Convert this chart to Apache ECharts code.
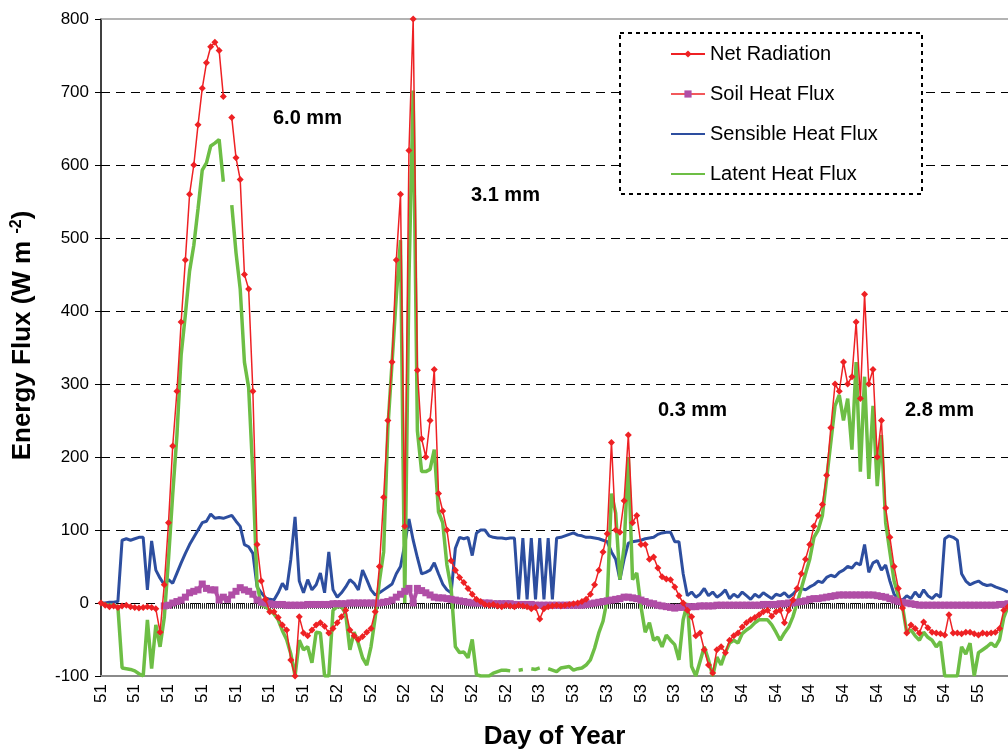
<!DOCTYPE html>
<html>
<head>
<meta charset="utf-8">
<title>Energy Flux</title>
<script src="https://cdn.jsdelivr.net/npm/echarts@6/dist/echarts.min.js"></script>
<style>
  html, body { margin: 0; padding: 0; background: #fff; }
  #chart { width: 1008px; height: 749px; }
</style>
</head>
<body>
<div id="chart"></div>
<script>
// Day-of-year tick labels; one label every 8 samples
const tickLabels = ['51','51','51','51','51','51','51','52','52','52','52','52','52','53','53','53','53','53','53','54','54','54','54','54','54','54','55'];
const samplesPerTick = 8;

// Energy fluxes, W m-2
const netRadiation = [
  0, -3, -5, -4, -6, -4, -3, -5, -6, -7,
  -6, -5, -6, -8, -40, 25, 110, 215, 290, 385,
  470, 560, 600, 655, 705, 740, 762, 768, 757, 694,
  null, 665, 610, 580, 450, 430, 290, 80, 30, 5,
  -12, -12, -20, -30, -37, -78, -100, -19, -41, -45,
  -37, -30, -27, -32, -41, -35, -27, -19, -10, -37,
  -45, -50, -46, -40, -35, -12, 50, 145, 250, 330,
  470, 560, 105, 620, 800, 319, 225, 200, 250, 320,
  150, 126, 100, 58, 45, 35, 28, 20, 12, 5,
  2, -2, -3, -2, -4, -5, -3, -4, -5, -3,
  -4, -5, -8, -6, -22, -8, -5, -4, -3, -4,
  -3, -2, -1, 0, 2, 5, 12, 25, 45, 70,
  95, 220, 100, 97, 140, 230, 110, 120, 80, 80,
  60, 63, 48, 36, 33, 32, 22, 10, 0, -10,
  -19, -45, -41, -64, -85, -96, -64, -60, -68, -51,
  -45, -41, -33, -27, -23, -20, -16, -12, -10, -18,
  -12, -10, -27, -10, 4, 20, 40, 60, 80, 105,
  120, 135, 175, 240, 300, 290, 330, 300, 310, 385,
  280, 423, 300, 320, 200, 250, 130, 90, 50, 20,
  -7, -41, -30, -35, -41, -26, -34, -40, -41, -42,
  -44, -16, -41, -41, -42, -40, -40, -42, -44, -41,
  -42, -41, -40, -35, -10, -5
];

const soilHeat = [
  null, null, null, null, null, null, null, null, null, null,
  null, null, null, null, null, -4, -3, 0, 2, 4,
  8, 14, 16, 18, 26, 20, 18, 18, 4, 8,
  5, 11, 16, 21, 18, 16, 12, 4, 1, 0,
  -1, -2, -2, -2, -3, -3, -3, -3, -3, -2,
  -2, -2, -2, -2, -2, -1, -1, -1, -1, 0,
  0, 0, 0, 0, 0, 0, 0, 1, 2, 4,
  8, 12, 16, 20, 0, 20, 17, 14, 11, 8,
  7, 7, 6, 5, 4, 3, 2, 1, 0, 0,
  0, 0, 0, -1, -1, -1, -1, -1, -2, -2,
  -2, -2, -2, -3, -3, -3, -3, -3, -3, -3,
  -3, -3, -3, -3, -3, -2, -1, 0, 1, 2,
  3, 4, 5, 6, 8, 8, 7, 6, 4, 2,
  0, -1, -3, -4, -5, -6, -7, -6, -6, -5,
  -5, -5, -4, -4, -4, -4, -3, -3, -3, -3,
  -3, -3, -3, -3, -3, -3, -3, -2, -2, -2,
  -2, -1, -1, 0, 0, 1, 2, 3, 5, 6,
  6, 7, 8, 9, 10, 11, 11, 11, 11, 11,
  11, 11, 11, 11, 10, 9, 8, 6, 4, 2,
  1, 0, -1, -2, -3, -3, -3, -3, -3, -3,
  -3, -3, -3, -3, -3, -3, -3, -3, -3, -3,
  -3, -3, -3, -2, -2, -1
];

const sensibleHeat = [
  0, 0, 1, 1, 2, 86, 88, 86, 88, 90,
  90, 18, 85, 45, 34, 25, 32, 27, 41, 55,
  68, 80, 90, 100, 110, 112, 122, 116, 117, 116,
  118, 120, 112, 105, 80, 77, 68, 22, 14, 7,
  5, 4, 14, 27, 18, 60, 118, 30, 14, 32,
  18, 25, 41, 14, 70, 18, 8, 14, 22, 32,
  27, 18, 45, 32, 18, 11, 14, 18, 22, 26,
  40, 50, 80, 115, 86, 62, 40, 42, 45, 55,
  40, 26, 18, 14, 75, 90, 88, 90, 65, 96,
  100, 100, 92, 90, 89, 89, 88, 89, 89, 5,
  89, 5, 89, 5, 89, 5, 89, 5, 89, 90,
  92, 94, 96, 93, 92, 90, 90, 89, 88, 86,
  84, 70, 60, 32, 60, 82, 84, 85, 86, 88,
  89, 90, 94, 96, 97, 97, 84, 84, 40, 10,
  15, 8, 12, 20, 10, 15, 8, 12, 18, 6,
  12, 8, 15, 10, 5, 12, 8, 14, 10, 6,
  12, 10, 14, 8, 12, 18, 20, 18, 22, 25,
  30, 28, 35, 38, 36, 42, 45, 50, 48, 55,
  52, 80, 42, 55, 58, 45, 52, 30, 12, 6,
  4, 10, 6, 15, 8, 18, 10, 6, 12, 8,
  88, 92, 90, 86, 40, 30, 25, 28, 30, 26,
  24, 25, 22, 20, 18, 15
];

const latentHeat = [
  0, -2, -3, -3, -5, -89, -90, -91, -93, -97,
  -100, -23, -90, -30, -60, -20, 60, 149, 230, 340,
  395, 455, 490, 540, 593, 603, 626, 630, 635, 577,
  null, 545, 480, 430, 330, 295, 176, 25, -3, -5,
  -10, -15, -23, -38, -50, -70, -100, -51, -64, -60,
  -82, -40, -41, -100, -100, -10, -5, -5, -15, -64,
  -40, -55, -75, -85, -60, -20, 30, 70, 240, 330,
  420, 497, 0, 445, 702, 236, 180, 180, 183, 210,
  125, 110, 52, 20, -60, -68, -67, -75, -50, -98,
  -100, -100, -100, -96, -94, -92, -92, -93, null, -92,
  -91, null, -90, -91, -89, null, -90, -92, -94, -89,
  -88, -87, -92, -90, -89, -85, -78, -62, -41, -25,
  5, 150, 123, 32, 77, 200, 32, 41, -5, -40,
  -27, -51, -47, -60, -44, -51, -57, -78, -23, 0,
  -87, -100, -80, -60, -78, -100, -74, -85, -68, -55,
  -51, -55, -42, -37, -33, -27, -23, -23, -23, -30,
  -40, -51, -41, -33, -19, 0, 20, 40, 60, 90,
  100, 120, 170, 220, 270, 285, 250, 280, 210, 330,
  180, 310, 170, 270, 160, 230, 110, 70, 30, 10,
  -5, -41, -37, -45, -51, -40, -47, -51, -60, -53,
  -100, -100, -100, -100, -60, -70, -55, -100, -68, -64,
  -60, -55, -60, -50, -20, -5
];

// Rainfall notes per event
const rainNotes = [
  { text: '6.0 mm', x: 273, y: 118 },
  { text: '3.1 mm', x: 471, y: 195 },
  { text: '0.3 mm', x: 658, y: 410 },
  { text: '2.8 mm', x: 905, y: 410 }
];

// Hatched strip just below the zero line (category index range and depth)
const hatchRange = { from: 15, to: 190, depth: -8 };

const FONT = '"Liberation Sans", Arial, Helvetica, sans-serif';
const C_NET = '#EE2124';
const C_SOIL = '#B04EA6';
const C_SENS = '#2D4E9F';
const C_LAT = '#6DBE45';

const categories = netRadiation.map((_, i) => tickLabels[Math.floor(i / samplesPerTick)] || '');

// vertical hatch pattern
const hatch = document.createElement('canvas');
hatch.width = 2; hatch.height = 2;
const hctx = hatch.getContext('2d');
hctx.fillStyle = '#222';
hctx.fillRect(0, 0, 1, 2);

const chart = echarts.init(document.getElementById('chart'), null, { renderer: 'canvas' });

const option = {
  animation: false,
  backgroundColor: '#fff',
  textStyle: { fontFamily: FONT },
  grid: { left: 101, right: 0, top: 19, bottom: 73, containLabel: false, outerBoundsMode: 'none' },
  legend: {
    orient: 'vertical',
    left: 665,
    top: 39,
    z: 10,
    itemWidth: 34,
    itemHeight: 9,
    itemGap: 20,
    selectedMode: false,
    textStyle: { fontSize: 20, color: '#000', fontFamily: FONT },
    data: [
      { name: 'Net Radiation' },
      { name: 'Soil Heat Flux', lineStyle: { color: C_NET, width: 1.5 } },
      { name: 'Sensible Heat Flux', itemStyle: { opacity: 0 } },
      { name: 'Latent Heat Flux', itemStyle: { opacity: 0 } }
    ]
  },
  xAxis: [
    {
      type: 'category',
      data: categories,
      boundaryGap: false,
      axisLine: { onZero: false, lineStyle: { color: '#8a8a8a', width: 2 } },
      axisTick: { show: false },
      axisLabel: { interval: samplesPerTick - 1, rotate: 90, fontSize: 17, color: '#000', margin: 8, fontFamily: FONT },
      splitLine: { show: false },
      name: 'Day of Year',
      nameLocation: 'middle',
      nameGap: 48,
      nameTextStyle: { fontSize: 26, fontWeight: 'bold', color: '#000', fontFamily: FONT }
    },
    {
      type: 'category',
      data: categories,
      position: 'top',
      boundaryGap: false,
      axisLine: { onZero: false, lineStyle: { color: '#9a9a9a', width: 1.5 } },
      axisTick: { show: false },
      axisLabel: { show: false },
      splitLine: { show: false }
    }
  ],
  yAxis: {
    type: 'value',
    min: -100,
    max: 800,
    interval: 100,
    axisLine: { show: true, lineStyle: { color: '#000', width: 1.5 } },
    axisTick: { show: true, length: 6, lineStyle: { color: '#000', width: 1 } },
    axisLabel: { fontSize: 17, color: '#000', margin: 12, fontFamily: FONT },
    splitLine: {
      show: true,
      showMinLine: false,
      showMaxLine: false,
      lineStyle: { color: '#000', width: 1, type: [9, 6] }
    },
    name: 'Energy Flux (W m {sup|-2})',
    nameLocation: 'middle',
    nameRotate: 90,
    nameGap: 64,
    nameTextStyle: {
      fontSize: 26, fontWeight: 'bold', color: '#000', fontFamily: FONT,
      padding: [0, 0, 0, 24],
      rich: { sup: { fontSize: 16, fontWeight: 'bold', color: '#000', fontFamily: FONT, verticalAlign: 'top', padding: [0, 0, 12, 0] } }
    }
  },
  series: [
    {
      name: 'Sensible Heat Flux',
      type: 'line',
      data: sensibleHeat,
      symbol: 'none',
      lineStyle: { color: C_SENS, width: 3 },
      itemStyle: { color: C_SENS },
      emphasis: { disabled: true },
      z: 2
    },
    {
      name: 'Latent Heat Flux',
      type: 'line',
      data: latentHeat,
      symbol: 'none',
      lineStyle: { color: C_LAT, width: 3.5 },
      itemStyle: { color: C_LAT },
      emphasis: { disabled: true },
      z: 3
    },
    {
      name: 'Soil Heat Flux',
      type: 'line',
      data: soilHeat,
      symbol: 'rect',
      symbolSize: 7,
      showAllSymbol: true,
      lineStyle: { color: C_SOIL, width: 4 },
      itemStyle: { color: C_SOIL },
      emphasis: { disabled: true },
      z: 4,
      markArea: {
        silent: true,
        itemStyle: { color: { image: hatch, repeat: 'repeat' } },
        data: [[{ xAxis: hatchRange.from, yAxis: hatchRange.depth }, { xAxis: hatchRange.to, yAxis: 0 }]]
      }
    },
    {
      name: 'Net Radiation',
      type: 'line',
      data: netRadiation,
      symbol: 'diamond',
      symbolSize: 7,
      showAllSymbol: true,
      lineStyle: { color: C_NET, width: 1.5 },
      itemStyle: { color: C_NET },
      emphasis: { disabled: true },
      z: 5
    }
  ],
  graphic: [
    {
      type: 'rect',
      z: 3,
      shape: { x: 620, y: 33, width: 302, height: 161 },
      style: { fill: '#fff', stroke: '#000', lineWidth: 2, lineDash: [4, 4] }
    }
  ].concat(rainNotes.map(n => ({
    type: 'text',
    z: 6,
    style: { text: n.text, x: n.x, y: n.y, fill: '#000', font: 'bold 20px ' + FONT, verticalAlign: 'middle' }
  })))
};

chart.setOption(option);
</script>
</body>
</html>
